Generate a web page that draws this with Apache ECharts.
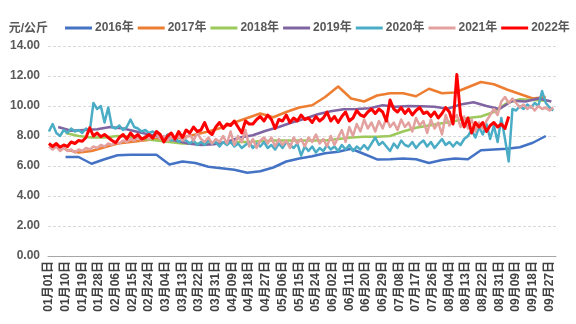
<!DOCTYPE html>
<html>
<head>
<meta charset="utf-8">
<script src="https://cdn.jsdelivr.net/npm/echarts@6/dist/echarts.min.js"></script>
<style>
html,body{margin:0;padding:0;background:#fff;}
#chart{width:576px;height:324px;}
</style>
</head>
<body>
<div id="chart"></div>
<script>
// Categories: daily dates Jan 1 – Sep 30 (leap-year calendar)
const monthDays = [31, 29, 31, 30, 31, 30, 31, 31, 30];
const yTicks = [0, 2, 4, 6, 8, 10, 12, 14];
const seriesNames = ['2016年', '2017年', '2018年', '2019年', '2020年', '2021年', '2022年'];

// Weekly series (one value every 7 days from the given start day index)
const start2016 = 9, start2017 = 9, start2018 = 9, start2019 = 5;
const v2016 = [6.6,6.6,6.15,6.45,6.72,6.75,6.75,6.75,6.1,6.3,
  6.2,5.95,5.85,5.75,5.55,5.65,5.9,6.3,6.5,6.65,
  6.85,6.95,7.15,6.8,6.44,6.45,6.5,6.45,6.2,6.4,
  6.5,6.45,7.05,7.1,7.15,7.25,7.55,8.0];
const v2017 = [7.1,6.9,7.0,7.25,7.5,7.6,7.7,7.8,7.75,7.9,
  8.1,8.3,8.55,8.9,9.2,9.5,9.25,9.6,9.9,10.05,
  10.6,11.3,10.5,10.3,10.7,10.85,10.85,10.65,11.15,10.85,
  10.9,11.25,11.6,11.45,11.1,10.8,10.5,10.6];
const v2018 = [8.2,8.0,7.9,7.9,8.0,7.95,7.8,7.7,7.6,7.5,
  7.5,7.5,7.55,7.6,7.6,7.65,7.7,7.7,7.7,7.7,
  7.7,7.8,7.9,7.95,7.95,8.0,8.3,8.55,8.7,8.85,
  9.0,9.2,9.3,9.6,10.2,10.45,10.4,10.35];
const v2019 = [8.6,8.35,8.4,8.45,8.6,8.5,8.3,8.1,7.9,7.7,
  7.5,7.4,7.45,7.6,7.9,8.05,8.35,8.6,8.9,9.15,
  9.45,9.65,9.78,9.8,9.85,10.05,9.95,10.0,9.98,9.95,
  9.82,10.1,10.25,10.0,9.8,10.35,10.3,10.5,10.3];

// Daily series sampled every 2 days from Jan 1
const v2020 = [8.3,8.8,8.2,8.0,8.4,8.2,8.5,8.3,8.4,8.2,
  8.5,8.3,10.2,9.8,10.0,8.9,9.9,8.6,8.5,8.7,
  8.4,8.6,9.1,8.6,8.5,8.3,8.4,8.2,8.3,8.1,
  8.0,7.8,8.1,7.7,7.9,7.6,7.8,7.7,7.5,7.7,
  7.4,7.6,7.4,7.7,7.5,7.6,7.3,7.6,7.4,7.6,
  7.3,7.5,7.2,7.4,7.6,7.2,7.5,7.3,7.6,7.2,
  7.4,7.1,7.5,7.2,7.6,7.4,7.2,7.5,6.7,7.3,
  7.0,7.3,6.9,7.2,7.0,7.4,7.1,7.3,7.0,7.4,
  7.1,7.4,7.0,7.3,7.1,7.4,7.1,7.5,7.9,7.4,
  7.6,7.3,7.0,7.5,7.2,7.7,7.4,7.3,7.6,7.2,
  7.5,7.7,7.3,7.6,7.2,7.5,7.8,7.4,7.6,7.3,
  7.6,7.4,7.8,8.0,8.4,7.9,8.6,8.1,8.8,7.8,
  8.7,7.6,9.2,7.8,6.3,9.8,9.7,10.0,9.8,10.1,
  9.9,10.2,10.0,11.0,10.2,9.9,9.7];
const v2021 = [7.3,7.1,7.3,7.0,7.2,7.0,7.1,6.9,7.1,7.0,
  7.2,7.1,7.3,7.2,7.4,7.3,7.5,7.4,7.6,7.5,
  7.7,7.6,7.8,7.7,7.9,7.7,8.0,7.8,7.9,8.1,
  7.8,8.0,7.7,7.9,7.8,8.0,7.7,7.9,8.1,7.7,
  8.2,7.8,7.6,7.9,7.5,7.8,7.6,8.0,7.5,8.3,
  7.4,8.0,7.6,8.4,7.3,7.8,7.2,7.7,7.9,7.5,
  7.9,7.3,7.8,7.4,7.7,7.2,7.9,7.5,7.8,7.3,
  7.9,7.6,8.1,7.5,7.8,7.3,8.0,7.4,7.9,8.4,
  7.6,8.6,8.0,8.8,8.3,9.1,8.5,8.9,8.3,9.0,
  8.5,9.2,8.6,8.9,8.4,9.1,8.6,8.9,8.3,9.2,
  8.7,9.0,8.2,9.1,8.5,8.9,8.1,9.4,8.7,9.1,
  9.4,8.6,9.3,8.5,9.1,8.3,8.9,8.5,9.0,9.4,
  9.8,9.4,10.3,10.6,10.2,10.5,10.2,9.9,10.1,9.8,
  10.0,9.7,10.0,9.8,9.9,9.7,9.9];
const v2022 = [7.5,7.3,7.5,7.25,7.4,7.3,7.6,7.5,7.7,7.65,
  7.9,8.55,8.0,8.2,7.95,8.1,7.9,7.7,7.55,7.9,
  8.1,7.8,8.2,7.9,8.1,7.8,7.9,8.1,7.85,8.3,
  8.1,7.6,8.0,8.2,7.8,8.3,7.9,8.4,8.2,8.6,
  8.3,8.4,8.9,8.3,8.1,8.6,8.9,8.5,8.8,8.7,
  9.0,8.6,8.2,9.0,8.8,8.8,9.1,9.3,9.0,9.4,
  9.1,8.5,9.1,9.0,9.4,8.9,9.2,9.0,9.4,9.1,
  9.2,8.9,9.3,9.0,9.2,9.6,9.0,9.3,8.9,9.3,
  9.6,9.0,9.2,9.7,9.4,9.3,9.6,9.8,9.5,9.8,
  9.6,9.0,10.4,9.8,9.6,9.9,9.5,9.8,9.4,9.7,
  9.9,9.5,9.6,9.3,9.6,9.2,9.5,9.9,9.6,8.8,
  12.1,9.4,8.6,9.2,8.2,8.9,8.6,8.9,8.3,8.7,
  8.9,8.6,8.8,8.5,9.3];
const dailyStep = 2;

const colors = ['#4472C4', '#ED7D31', '#9DC85B', '#8064A2', '#4BACC6', '#E2A09E', '#FF0000'];

// Build category labels
const pad = n => (n < 10 ? '0' : '') + n;
const categories = [];
monthDays.forEach((len, m) => {
  for (let d = 1; d <= len; d++) categories.push(pad(m + 1) + '月' + pad(d) + '日');
});
const N = categories.length;

function placed(values, start, step) {
  const arr = new Array(N).fill(null);
  values.forEach((v, i) => { const idx = start + i * step; if (idx < N) arr[idx] = v; });
  return arr;
}

const dataSets = [
  placed(v2016, start2016, 7),
  placed(v2017, start2017, 7),
  placed(v2018, start2018, 7),
  placed(v2019, start2019, 7),
  placed(v2020, 0, dailyStep),
  placed(v2021, 0, dailyStep),
  placed(v2022, 0, dailyStep)
];

const FONT = "'Liberation Sans','Noto Sans CJK SC',sans-serif";
const chart = echarts.init(document.getElementById('chart'), null, {renderer: 'canvas'});
chart.setOption({
  animation: false,
  color: colors,
  textStyle: {fontFamily: FONT},
  grid: {left: 48, right: 20, top: 46, bottom: 68},
  legend: {
    data: seriesNames,
    left: 60, top: 17,
    icon: 'rect', itemWidth: 27, itemHeight: 3, itemGap: 4,
    textStyle: {fontSize: 12, color: '#595959', fontWeight: 'bold', fontFamily: FONT, padding: [0, 0, 0, -2]}
  },
  xAxis: {
    type: 'category',
    data: categories,
    boundaryGap: true,
    axisLine: {lineStyle: {color: '#A6A6A6', width: 1}},
    axisTick: {interval: 1, length: 4, lineStyle: {color: '#A6A6A6'}},
    axisLabel: {interval: 8, rotate: 90, fontSize: 12, color: '#404040', fontWeight: 'bold', margin: 5, fontFamily: FONT},
    splitLine: {show: false}
  },
  yAxis: {
    type: 'value',
    min: yTicks[0], max: yTicks[yTicks.length - 1], interval: 2,
    name: '元/公斤',
    nameLocation: 'end',
    nameGap: 17,
    nameTextStyle: {fontSize: 12, color: '#595959', fontWeight: 'bold', align: 'right', verticalAlign: 'middle', fontFamily: FONT},
    axisLine: {show: false},
    axisTick: {show: false},
    axisLabel: {formatter: v => v.toFixed(2), fontSize: 12, color: '#595959', fontWeight: 'bold', margin: 8, fontFamily: FONT},
    splitLine: {lineStyle: {color: '#D9D9D9', type: [3, 2], width: 1}}
  },
  series: seriesNames.map((name, i) => ({
    name,
    type: 'line',
    data: dataSets[i],
    connectNulls: true,
    showSymbol: false,
    symbol: 'none',
    smooth: false,
    lineStyle: {width: i === 6 ? 3 : 2.5, color: colors[i], join: 'round'},
    itemStyle: {color: colors[i]}
  }))
});
</script>
</body>
</html>
